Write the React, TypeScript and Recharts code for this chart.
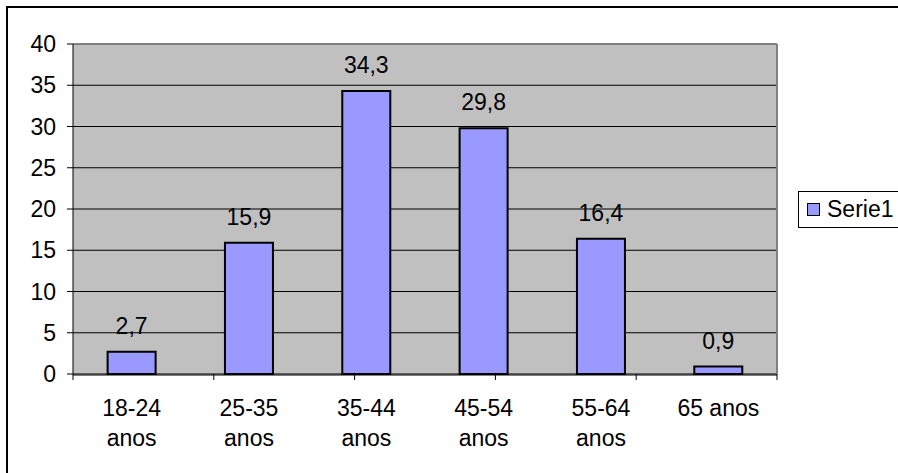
import React from 'react';
import { BarChart, Bar, XAxis, YAxis, CartesianGrid, LabelList, Legend } from 'recharts';

const categories = ['18-24\nanos', '25-35\nanos', '35-44\nanos', '45-54\nanos', '55-64\nanos', '65 anos'];
const serie1 = [2.7, 15.9, 34.3, 29.8, 16.4, 0.9];
const yTicks = [0, 5, 10, 15, 20, 25, 30, 35, 40];
const boundaryTicks = [0, 1, 2, 3, 4, 5, 6];
const seriesName = 'Serie1';

const data = categories.map((c, i) => ({ cat: c, v: serie1[i] }));
const FONT = 'Arial, "Liberation Sans", sans-serif';
const FS = 23;

const CatTick = (props: any) => {
  const { x, y, payload } = props;
  const lines = String(payload.value).split('\n');
  return (
    <text x={x} y={y} textAnchor="middle" fontFamily={FONT} fontSize={FS} fill="#000">
      {lines.map((l, i) => (
        <tspan key={i} x={x} dy={i === 0 ? 41 : 30}>
          {l}
        </tspan>
      ))}
    </text>
  );
};

const NoTick = () => null;

const LegendBox = (props: any) => {
  const item = props.payload && props.payload[0];
  return (
    <div
      style={{
        border: '1px solid #000',
        height: 35,
        width: 160,
        display: 'flex',
        alignItems: 'center',
        background: '#fff',
      }}
    >
      <span
        style={{
          display: 'inline-block',
          width: 11,
          height: 11,
          background: (item && item.color) || '#9999FF',
          border: '1px solid #000',
          marginLeft: 8,
          marginRight: 7,
        }}
      />
      <span style={{ fontFamily: FONT, fontSize: FS, color: '#000', lineHeight: '23px' }}>
        {(item && item.value) || seriesName}
      </span>
    </div>
  );
};

export default function App() {
  return (
    <div
      style={{
        position: 'fixed',
        left: 0,
        top: 0,
        width: 898,
        height: 473,
        overflow: 'hidden',
        background: '#fff',
      }}
    >
      <div
        style={{
          position: 'absolute',
          left: 6,
          top: 6,
          width: 1000,
          height: 1000,
          border: '2px solid #000',
        }}
      />
      <div style={{ position: 'absolute', left: 0, top: 0 }}>
        <BarChart
          width={898}
          height={473}
          data={data}
          margin={{ top: 43, right: 120, bottom: 97, left: 0 }}
          barCategoryGap="29.5%"
        >
          <CartesianGrid
            vertical={false}
            stroke="#000"
            fill="#C0C0C0"
            fillOpacity={1}
            xAxisId="cat"
            yAxisId="y"
          />
          <XAxis
            xAxisId="cat"
            dataKey="cat"
            height={1}
            tickLine={false}
            axisLine={{ stroke: '#000' }}
            tick={<CatTick />}
            tickSize={0}
            tickMargin={0}
            interval={0}
          />
          <XAxis
            xAxisId="b"
            type="number"
            domain={[0, 6]}
            ticks={boundaryTicks}
            height={1}
            axisLine={false}
            tick={<NoTick />}
            tickLine={{ stroke: '#000' }}
            tickSize={6}
            interval={0}
          />
          <XAxis
            xAxisId="t"
            orientation="top"
            type="number"
            domain={[0, 6]}
            height={1}
            axisLine={{ stroke: '#808080', strokeWidth: 2 }}
            tick={false}
            tickLine={false}
          />
          <YAxis
            yAxisId="y"
            domain={[0, 40]}
            ticks={yTicks}
            width={73}
            axisLine={{ stroke: '#000' }}
            tickLine={{ stroke: '#000' }}
            tickSize={6}
            tickMargin={11}
            tick={{ fill: '#000', fontSize: FS, fontFamily: FONT }}
            interval={0}
          />
          <YAxis
            yAxisId="r"
            orientation="right"
            width={1}
            domain={[0, 40]}
            axisLine={{ stroke: '#808080', strokeWidth: 2 }}
            tick={false}
            tickLine={false}
          />
          <Bar
            xAxisId="cat"
            yAxisId="y"
            dataKey="v"
            name={seriesName}
            fill="#9999FF"
            stroke="#000"
            strokeWidth={2}
            isAnimationActive={false}
          >
            <LabelList
              dataKey="v"
              position="top"
              offset={18}
              fill="#000"
              fontSize={FS}
              fontFamily={FONT}
              formatter={(v: any) => String(v).replace('.', ',')}
            />
          </Bar>
          <Legend
            layout="vertical"
            align="center"
            verticalAlign="middle"
            content={<LegendBox />}
            wrapperStyle={{ position: 'absolute', left: 798, top: 191, width: 160 }}
          />
        </BarChart>
      </div>
    </div>
  );
}
